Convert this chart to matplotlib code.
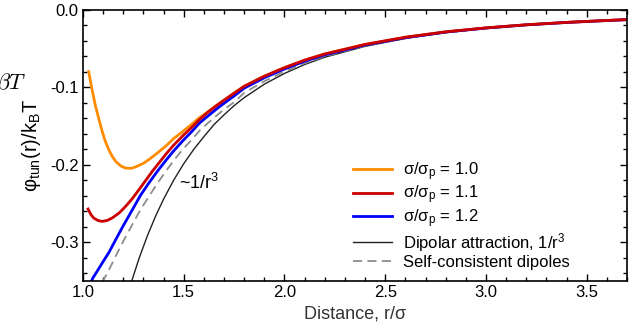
import matplotlib
matplotlib.use("Agg")
import matplotlib.pyplot as plt
from matplotlib.ticker import MultipleLocator, FormatStrFormatter

plt.rcParams['font.family'] = ['Liberation Sans', 'DejaVu Sans']
plt.rcParams['mathtext.fontset'] = 'custom'
plt.rcParams['mathtext.rm'] = 'Liberation Sans'
plt.rcParams['mathtext.it'] = 'Liberation Sans:italic'
plt.rcParams['axes.unicode_minus'] = False

# values
r_long = [1.8, 1.9, 2.0, 2.1, 2.2, 2.4, 2.6, 2.8, 3.0, 3.2, 3.4, 3.6, 3.7]
red_long = [-0.0985, -0.0855, -0.0745, -0.0648, -0.0568, -0.0445, -0.0352,
            -0.0282, -0.0231, -0.0191, -0.0160, -0.0135, -0.0124]
blue_long = [-0.1010, -0.0875, -0.0762, -0.0662, -0.0580, -0.0452, -0.0357,
             -0.0285, -0.0233, -0.0192, -0.0161, -0.0136, -0.0125]
gray_long = [-0.1070, -0.0920, -0.0795, -0.0688, -0.0598, -0.0462, -0.0363,
             -0.0289, -0.0236, -0.0194, -0.0162, -0.0136, -0.0125]
black_long = [-0.1132, -0.0958, -0.0819, -0.0704, -0.0610, -0.0469, -0.0368,
              -0.0293, -0.0238, -0.0196, -0.0163, -0.0137, -0.0126]

r_orange = [1.028, 1.045, 1.062, 1.08, 1.095, 1.11, 1.128, 1.145, 1.162, 1.19,
            1.212, 1.24, 1.262, 1.3, 1.328, 1.37, 1.412, 1.45, 1.495, 1.54,
            1.578, 1.62, 1.662, 1.7, 1.75]
v_orange = [-0.0795, -0.103, -0.124, -0.142, -0.1565, -0.169, -0.1805, -0.189,
            -0.1955, -0.2018, -0.2042, -0.2045, -0.2025, -0.198, -0.193, -0.1845,
            -0.1755, -0.166, -0.157, -0.1475, -0.139, -0.1315, -0.1234, -0.1163,
            -0.1073]

r_red = [1.025, 1.04, 1.053, 1.075, 1.095, 1.12, 1.145, 1.18, 1.212, 1.245,
         1.278, 1.31, 1.345, 1.38, 1.412, 1.45, 1.495, 1.54, 1.578, 1.62,
         1.662, 1.7, 1.75]
v_red = [-0.257, -0.2645, -0.2686, -0.272, -0.273, -0.2718, -0.2686, -0.262,
         -0.2535, -0.2435, -0.232, -0.2205, -0.208, -0.1965, -0.186, -0.1745,
         -0.1626, -0.1515, -0.1415, -0.132, -0.1236, -0.1165, -0.1075]

r_blue = [1.04, 1.048, 1.07, 1.095, 1.13, 1.162, 1.2, 1.245, 1.285, 1.328,
          1.37, 1.412, 1.45, 1.495, 1.54, 1.578, 1.62, 1.662, 1.7, 1.75]
v_blue = [-0.352, -0.3465, -0.3375, -0.327, -0.3125, -0.2968, -0.2785, -0.258,
          -0.2395, -0.223, -0.208, -0.194, -0.182, -0.169, -0.157, -0.146,
          -0.137, -0.128, -0.1205, -0.111]

r_gray = [1.095, 1.13, 1.162, 1.2, 1.245, 1.285, 1.328, 1.37, 1.412, 1.45,
          1.495, 1.54, 1.578, 1.62, 1.662, 1.7, 1.75]
v_gray = [-0.352, -0.335, -0.318, -0.2985, -0.277, -0.258, -0.2405, -0.2235,
          -0.208, -0.1945, -0.18, -0.1675, -0.156, -0.146, -0.1366, -0.1285,
          -0.119]

r_black = [1.24, 1.28, 1.32, 1.36, 1.40, 1.45, 1.50, 1.55, 1.60, 1.65, 1.70, 1.75]
v_black = [-0.3514, -0.3195, -0.2913, -0.2664, -0.2442, -0.2198, -0.1985,
           -0.1799, -0.1636, -0.1480, -0.1354, -0.1235]

labels = [r'σ/σ$_\mathrm{p}$ = 1.0', r'σ/σ$_\mathrm{p}$ = 1.1',
          r'σ/σ$_\mathrm{p}$ = 1.2', r'Dipolar attraction, 1/r$^3$',
          'Self-consistent dipoles']

fig = plt.figure(figsize=(6.43, 3.29), dpi=100)
ax = fig.add_axes([83/643, 1-281/329, 544/643, 271/329])

l_black, = ax.plot(r_black + r_long, v_black + black_long, color='#222222', lw=1.0)
l_gray, = ax.plot(r_gray + r_long, v_gray + gray_long, color='#8c8c8c', lw=1.3,
                  dashes=(5, 3))
l_orange, = ax.plot(r_orange + r_long, v_orange + red_long, color='#ff8c00', lw=2.0)
l_blue, = ax.plot(r_blue + r_long, v_blue + blue_long, color='#0000ff', lw=2.0)
l_red, = ax.plot(r_red + r_long, v_red + red_long, color='#cc0000', lw=2.0)

ax.set_xlim(1.0, 3.7)
ax.set_ylim(-0.35, 0.0)
ax.xaxis.set_major_locator(MultipleLocator(0.5))
ax.xaxis.set_minor_locator(MultipleLocator(0.1))
ax.yaxis.set_major_locator(MultipleLocator(0.1))
ax.yaxis.set_minor_locator(MultipleLocator(0.02))
ax.xaxis.set_major_formatter(FormatStrFormatter('%.1f'))
ax.yaxis.set_major_formatter(FormatStrFormatter('%.1f'))
ax.tick_params(which='both', direction='in', top=True, right=True, width=1.0,
               labelsize=12, pad=3)
ax.tick_params(which='major', length=5)
ax.tick_params(which='minor', length=3)
for s in ax.spines.values():
    s.set_linewidth(1.2)

ax.set_xlabel('Distance, r/σ', fontsize=13, color='#333333', labelpad=4)
ax.set_ylabel(r'φ$_\mathrm{tun}$(r)/k$_\mathrm{B}$T', fontsize=14.5, labelpad=5)

ax.text(1.475, -0.223, r'~1/r$^3$', fontsize=13, ha='left', va='center')

# leftover piece of an old label at the top left corner
fig.text(26/643, 1-84/329, r'$\beta T$', fontsize=16, ha='right', va='center',
         math_fontfamily='cm')

ax.legend([l_orange, l_red, l_blue, l_black, l_gray], labels, frameon=False,
          fontsize=12, loc='upper left', bbox_to_anchor=(0.468, 0.502),
          handlelength=2.35, handletextpad=0.65, labelspacing=0.06,
          borderpad=0.4)

fig.savefig('out.png', dpi=100)
